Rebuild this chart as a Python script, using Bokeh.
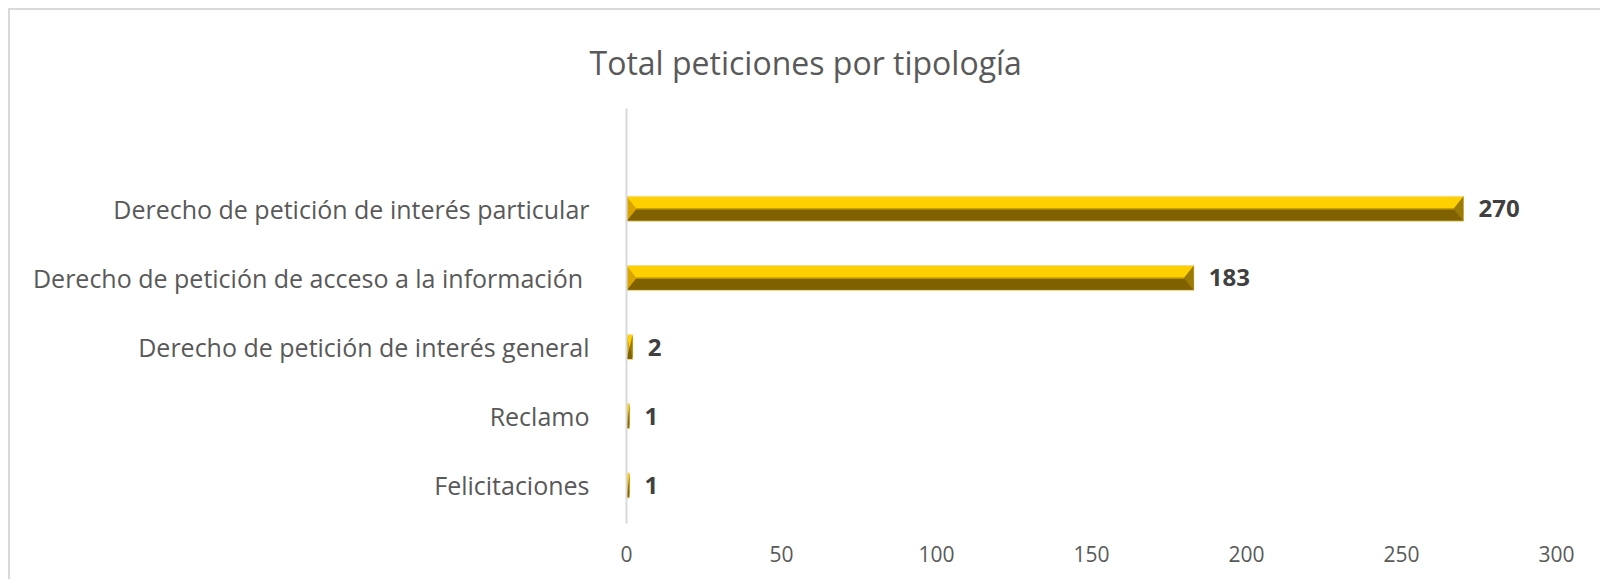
from bokeh.plotting import figure
from bokeh.models import Range1d, FixedTicker, ColumnDataSource, Title
from bokeh.core.properties import value
from bokeh.embed import file_html
from bokeh.resources import INLINE

title_text = "Total peticiones por tipología"
categories = ["Felicitaciones", "Reclamo", "Derecho de petición de interés general",
              "Derecho de petición de acceso a la información ", "Derecho de petición de interés particular"]
counts = [1, 1, 2, 183, 270]
x_ticks = [0, 50, 100, 150, 200, 250, 300]

pos = list(range(len(categories)))
H = 0.36  # bar thickness in category units
FW, FH = 930, 415
x_lo, x_hi = 0, 300
y_lo, y_hi = -0.55, 5.45
px_per_unit = FW / (x_hi - x_lo)
bevel = [min(10 / px_per_unit, c / 2.0) for c in counts]

p = figure(frame_width=FW, frame_height=FH, output_backend="svg", toolbar_location=None,
           x_range=Range1d(x_lo, x_hi), y_range=Range1d(y_lo, y_hi),
           min_border_left=616, min_border_right=44, min_border_top=98, min_border_bottom=56)
p.styles = {"border-left": "2px solid #d9d9d9", "border-top": "2px solid #d9d9d9",
            "margin-left": "8px", "margin-top": "8px"}
p.outline_line_color = None
p.background_fill_color = "white"
p.border_fill_color = "white"
p.xgrid.visible = False
p.ygrid.visible = False

p.title = Title(text=title_text, align="left", offset=-37, vertical_align="top",
                text_font="Open Sans", text_font_size="32px", text_font_style="normal",
                text_color="#595959", standoff=46)

# top (bright) half and bottom (dark) half of each bar
top_y = [y + H / 4 for y in pos]
bot_y = [y - H / 4 for y in pos]
p.hbar(y=top_y, left=0, right=counts, height=H / 2, fill_color="#FFD000", line_color=None)
p.hbar(y=bot_y, left=0, right=counts, height=H / 2, fill_color="#7F6100", line_color=None)
p.hbar(y=pos, left=0, right=counts, height=0.02, fill_color="#C9A200", line_color=None)
p.hbar(y=pos, left=0, right=counts, height=H, fill_color=None, line_color="#F2DC8C", line_width=1)

# bevels on the ends
lx = [[0, b, 0] for b in bevel]
ly = [[y + H / 2, y, y - H / 2] for y in pos]
p.patches(xs=lx, ys=ly, fill_color="#D9A400", line_color=None)
rx = [[c, c - b, c] for c, b in zip(counts, bevel)]
p.patches(xs=rx, ys=ly, fill_color="#9C7A06", line_color=None)

# value labels
src = ColumnDataSource(dict(x=counts, y=pos, t=[str(c) for c in counts]))
p.text(x="x", y="y", text="t", source=src, x_offset=15, text_align="left", text_baseline="middle",
       text_font=value("Open Sans"), text_font_size="24px", text_font_style="bold", text_color="#404040")

# axes
p.xaxis.ticker = FixedTicker(ticks=x_ticks)
p.xaxis.axis_line_color = None
p.xaxis.major_tick_line_color = None
p.xaxis.minor_tick_line_color = None
p.xaxis.major_label_text_font = "Open Sans"
p.xaxis.major_label_text_font_size = "21px"
p.xaxis.major_label_text_color = "#595959"
p.xaxis.major_label_standoff = 16

p.yaxis.ticker = FixedTicker(ticks=pos)
p.yaxis.major_label_overrides = {i: c for i, c in zip(pos, categories)}
p.yaxis.axis_line_color = "#d9d9d9"
p.yaxis.axis_line_width = 2
p.yaxis.major_tick_line_color = None
p.yaxis.minor_tick_line_color = None
p.yaxis.major_label_text_font = "Open Sans"
p.yaxis.major_label_text_font_size = "25px"
p.yaxis.major_label_text_color = "#595959"
p.yaxis.major_label_standoff = 31

open("out.html", "w").write(file_html(p, INLINE))
